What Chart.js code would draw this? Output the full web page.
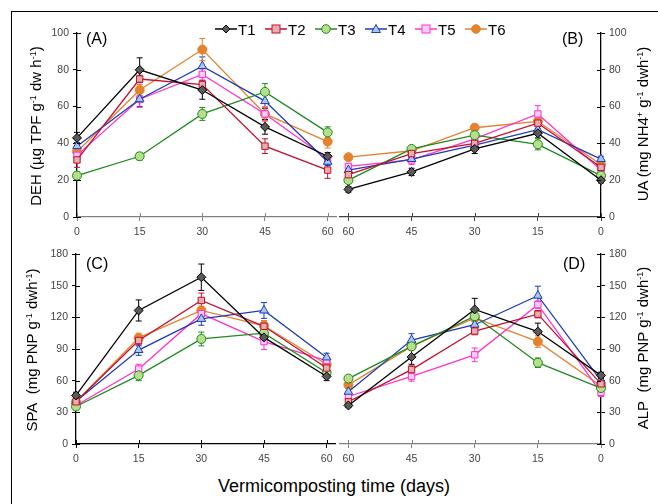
<!DOCTYPE html>
<html>
<head>
<meta charset="utf-8">
<script src="https://cdn.jsdelivr.net/npm/chart.js@4.4.1/dist/chart.umd.min.js"></script>
<style>
  body { margin: 0; background: #fff; font-family: "Liberation Sans", Arial, sans-serif; }
  #fig { position: relative; width: 658px; height: 504px; overflow: hidden; background: #fff; }
  #frame { position: absolute; left: 11px; top: 11px; width: 700px; height: 600px; border-left: 1px solid #000; border-top: 1px solid #000; }
  canvas.panel { position: absolute; }
  .ytitle { position: absolute; white-space: nowrap; font-size: 15px; color: #000; transform: translate(-50%, -50%) rotate(-90deg); }
  .ytitle sup { font-size: 9px; vertical-align: 5px; line-height: 0; }
  .plabel { position: absolute; font-size: 16px; color: #000; }
  #legend { position: absolute; left: 215px; top: 20px; height: 18px; }
  .litem { position: absolute; top: 0; height: 18px; display: flex; align-items: center; font-size: 15px; }
  #xtitle { position: absolute; left: 0; width: 668px; top: 476px; text-align: center; font-size: 18px; color: #000; }
</style>
</head>
<body>
<div id="fig">
  <div id="frame"></div>
  <canvas class="panel" id="cA" width="330" height="222" style="left:10px;top:18px"></canvas>
  <canvas class="panel" id="cB" width="300" height="222" style="left:336px;top:18px"></canvas>
  <canvas class="panel" id="cC" width="330" height="230" style="left:10px;top:240px"></canvas>
  <canvas class="panel" id="cD" width="300" height="230" style="left:336px;top:240px"></canvas>

  <div class="ytitle" style="left:35px;top:126px">DEH (µg TPF g<sup>-1</sup> dw h<sup>-1</sup>)</div>
  <div class="ytitle" style="left:642px;top:124px">UA (mg NH4<sup>+</sup> g<sup>-1</sup> dwh<sup>-1</sup>)</div>
  <div class="ytitle" style="left:31px;top:350px">SPA&nbsp; (mg PNP g<sup>-1</sup> dwh<sup>-1</sup>)</div>
  <div class="ytitle" style="left:642px;top:348px">ALP&nbsp; (mg PNP g<sup>-1</sup> dwh<sup>-1</sup>)</div>

  <div class="plabel" style="left:86px;top:30px">(A)</div>
  <div class="plabel" style="left:562px;top:30px">(B)</div>
  <div class="plabel" style="left:86px;top:255px">(C)</div>
  <div class="plabel" style="left:563px;top:255px">(D)</div>

  <div id="legend"></div>
  <div id="xtitle">Vermicomposting time (days)</div>
</div>

<script>
// --- Data ---
const days = [0, 15, 30, 45, 60];
const seriesNames = ['T1', 'T2', 'T3', 'T4', 'T5', 'T6'];

// (A) DEH, x = days
const dehValues = [
    [43, 80, 69, 49, 33],
    [31, 75, 72, 38.5, 25.5],
    [22.5, 33, 56, 68, 46],
    [38.5, 64, 82, 63, 30],
    [33.5, 64, 77.5, 56, 31.5],
    [35.5, 69, 91, 56, 41]
];
const dehErrors = [
    [3, 6.5, 5, 4, 2],
    [4, 2, 2, 4, 4.5],
    [2, 2, 3.5, 4.5, 3],
    [2, 4, 5, 4, 2],
    [3, 4.5, 3, 3.5, 2],
    [2, 3, 6, 4, 3.5]
];

// (B) UA, x = days (axis reversed)
const uaValues = [
    [20, 45.5, 37, 24.5, 15],
    [27, 51, 40, 34.5, 23],
    [22.5, 39.5, 44.5, 37, 20],
    [31.5, 47.5, 39, 31.5, 25.5],
    [25.5, 56, 42.5, 31, 27.5],
    [28.5, 52, 48.5, 36, 32.5]
];
const uaErrors = [
    [1.5, 2.5, 2.5, 2, 1.5],
    [1.5, 2, 2, 2, 1.5],
    [1.5, 3, 2, 1.5, 1.5],
    [1.5, 2, 2, 1.5, 1.5],
    [1.5, 4.5, 2, 2.5, 1.5],
    [1.5, 2, 2, 1.5, 1.5]
];

// (C) SPA, x = days
const spaValues = [
    [46, 126.5, 158, 101, 64],
    [40, 98, 136, 111.5, 72],
    [35.5, 65, 99.5, 105, 67.5],
    [40.5, 89, 118.5, 126.5, 82],
    [36.5, 71, 123.5, 97, 79],
    [40, 100.5, 126.5, 112, 75.5]
];
const spaErrors = [
    [3, 10, 12.5, 5, 4],
    [3, 5, 7, 5, 4],
    [3, 5, 6.5, 4, 3],
    [3, 5, 6, 7.5, 4],
    [3, 4.5, 5, 7.5, 3],
    [3, 4.5, 4, 5, 4]
];

// (D) ALP, x = days (axis reversed)
const alpValues = [
    [65, 106.5, 127.5, 82.5, 36.5],
    [57, 123, 107, 70.5, 40],
    [53, 77, 121, 92.5, 62],
    [60, 140.5, 113, 98.5, 49.5],
    [49, 132, 84.5, 64, 45],
    [55, 97, 119.5, 92.5, 56]
];
const alpErrors = [
    [3, 8, 10.5, 7, 2],
    [3, 3.5, 3.5, 3.5, 3],
    [3, 4.5, 3, 3, 3],
    [3, 9, 3, 6, 3],
    [4, 3.5, 6.5, 4.5, 3],
    [3, 5.5, 3, 4, 3]
];

const yTicksDEH = [0, 20, 40, 60, 80, 100];
const yTicksSPA = [0, 30, 60, 90, 120, 150, 180];

// --- Styles ---
const lineColors = ['#000000', '#c0102c', '#1e8a1e', '#1c3cb4', '#ff33cc', '#e4822e'];
const fillColors = ['#5a5a5a', '#e6aeae', '#b6df8c', '#a8c6f0', '#ffccff', '#e4822e'];
const pointStyles = ['rectRot', 'rect', 'circle', 'triangle', 'rect', 'circle'];
const pointRadii = [4.5, 4.5, 4.5, 5, 4.5, 4.5];

// --- Plugins ---
const errorBars = {
    id: 'errorBars',
    beforeDatasetsDraw(chart) {
        const ctx = chart.ctx;
        const ys = chart.scales.y;
        chart.data.datasets.forEach((ds, i) => {
            const meta = chart.getDatasetMeta(i);
            ctx.save();
            ctx.strokeStyle = ds.borderColor;
            ctx.lineWidth = 1;
            meta.data.forEach((pt, j) => {
                const v = ds.data[j].y, e = ds.errors[j];
                const top = ys.getPixelForValue(v + e), bot = ys.getPixelForValue(v - e);
                ctx.beginPath();
                ctx.moveTo(pt.x, top); ctx.lineTo(pt.x, bot);
                ctx.moveTo(pt.x - 3, top); ctx.lineTo(pt.x + 3, top);
                ctx.moveTo(pt.x - 3, bot); ctx.lineTo(pt.x + 3, bot);
                ctx.stroke();
            });
            ctx.restore();
        });
    }
};

// tick marks that cross the axis line (inner half)
const innerTicks = {
    id: 'innerTicks',
    afterDraw(chart) {
        const ctx = chart.ctx, a = chart.chartArea;
        const xs = chart.scales.x, ys = chart.scales.y;
        ctx.save();
        ctx.lineWidth = 1;
        ctx.strokeStyle = xs.options.border.color;
        ctx.beginPath();
        xs.ticks.forEach((t, i) => {
            const px = Math.round(xs.getPixelForTick(i)) + 0.5;
            ctx.moveTo(px, a.bottom); ctx.lineTo(px, a.bottom - 4);
        });
        ctx.stroke();
        ctx.strokeStyle = ys.options.border.color;
        ctx.beginPath();
        const right = ys.options.position === 'right';
        ys.ticks.forEach((t, i) => {
            const py = Math.round(ys.getPixelForTick(i)) + 0.5;
            if (right) { ctx.moveTo(a.right, py); ctx.lineTo(a.right - 4, py); }
            else { ctx.moveTo(a.left, py); ctx.lineTo(a.left + 4, py); }
        });
        ctx.stroke();
        ctx.restore();
    }
};

function makeDatasets(values, errors) {
    return values.map((vals, i) => ({
        label: seriesNames[i],
        data: days.map((d, j) => ({ x: d, y: vals[j] })),
        errors: errors[i],
        borderColor: lineColors[i],
        backgroundColor: fillColors[i],
        borderWidth: 1.3,
        pointStyle: pointStyles[i],
        pointRadius: pointRadii[i],
        pointBorderWidth: 1,
        pointBorderColor: lineColors[i],
        pointBackgroundColor: fillColors[i],
        tension: 0,
        clip: 8
    }));
}

function makeChart(id, values, errors, cfg) {
    const tickFont = { family: "'Liberation Sans', Arial, sans-serif", size: 10.5 };
    return new Chart(document.getElementById(id), {
        type: 'line',
        data: { datasets: makeDatasets(values, errors) },
        plugins: [errorBars, innerTicks],
        options: {
            responsive: false,
            animation: false,
            events: [],
            layout: { autoPadding: false, padding: cfg.padding },
            plugins: { legend: { display: false }, tooltip: { enabled: false } },
            scales: {
                x: {
                    type: 'linear', min: 0, max: 62, reverse: cfg.reverse,
                    afterBuildTicks: s => { s.ticks = days.map(v => ({ value: v })); },
                    afterFit: s => { s.height = cfg.xHeight; },
                    grid: { drawOnChartArea: false, tickLength: 4, tickColor: cfg.xColor, offset: false },
                    border: { color: cfg.xColor, width: 1.3 },
                    ticks: { font: tickFont, color: '#444', padding: 5, maxRotation: 0, autoSkip: false }
                },
                y: {
                    position: cfg.yPos, min: 0, max: cfg.yTicks[cfg.yTicks.length - 1],
                    afterBuildTicks: s => { s.ticks = cfg.yTicks.map(v => ({ value: v })); },
                    afterFit: s => { s.width = cfg.yWidth; },
                    grid: { drawOnChartArea: false, tickLength: 4, tickColor: '#000' },
                    border: { color: '#000', width: 1.3 },
                    ticks: { font: tickFont, color: '#444', padding: 4 }
                }
            }
        }
    });
}

makeChart('cA', dehValues, dehErrors, {
    padding: { top: 15, right: 4, left: 0, bottom: 0 }, reverse: false, yPos: 'left',
    yWidth: 67, xHeight: 23, yTicks: yTicksDEH, xColor: '#808080'
});
makeChart('cB', uaValues, uaErrors, {
    padding: { top: 15, right: 0, left: 4, bottom: 0 }, reverse: true, yPos: 'right',
    yWidth: 35, xHeight: 23, yTicks: yTicksDEH, xColor: '#404040'
});
makeChart('cC', spaValues, spaErrors, {
    padding: { top: 14, right: 5, left: 0, bottom: 0 }, reverse: false, yPos: 'left',
    yWidth: 66, xHeight: 26, yTicks: yTicksSPA, xColor: '#000'
});
makeChart('cD', alpValues, alpErrors, {
    padding: { top: 14, right: 0, left: 4, bottom: 0 }, reverse: true, yPos: 'right',
    yWidth: 35, xHeight: 26, yTicks: yTicksSPA, xColor: '#808080'
});

// --- Legend ---
function markerSvg(i) {
    const c = lineColors[i], f = fillColors[i];
    let m = '';
    if (pointStyles[i] === 'rectRot') m = `<polygon points="11,4 15,8 11,12 7,8" fill="${f}" stroke="${c}"/>`;
    else if (pointStyles[i] === 'rect') m = `<rect x="7" y="4" width="8" height="8" fill="${f}" stroke="${c}"/>`;
    else if (pointStyles[i] === 'triangle') m = `<polygon points="11,3.5 15.5,11.5 6.5,11.5" fill="${f}" stroke="${c}"/>`;
    else m = `<circle cx="11" cy="8" r="4.3" fill="${f}" stroke="${c}"/>`;
    return `<svg width="22" height="16" viewBox="0 0 22 16"><line x1="0" y1="8" x2="22" y2="8" stroke="${c}" stroke-width="1.5"/>${m}</svg>`;
}
const legend = document.getElementById('legend');
seriesNames.forEach((name, i) => {
    legend.innerHTML += `<div class="litem" style="left:${i * 50}px">${markerSvg(i)}<span style="margin-left:1px">${name}</span></div>`;
});
</script>
</body>
</html>
